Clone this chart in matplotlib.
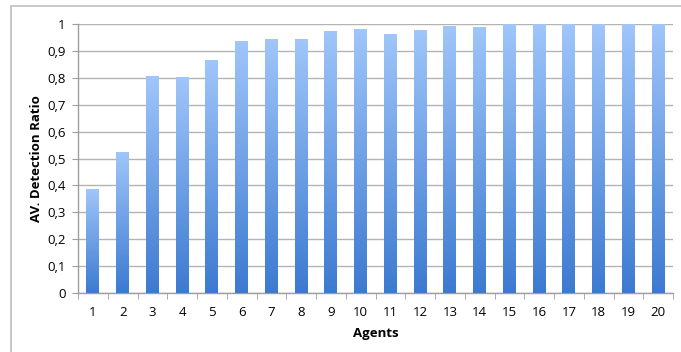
import numpy as np
import matplotlib
matplotlib.use("Agg")
import matplotlib.pyplot as plt
from matplotlib.colors import LinearSegmentedColormap
from matplotlib.patches import Rectangle
from matplotlib.ticker import FuncFormatter

plt.rcParams['font.family'] = ['Open Sans', 'DejaVu Sans']

agents = [str(i) for i in range(1, 21)]
ratios = [0.385, 0.525, 0.806, 0.802, 0.866, 0.935, 0.943, 0.943, 0.974, 0.980,
          0.963, 0.977, 0.992, 0.990, 1.0, 1.0, 1.0, 1.0, 1.0, 1.0]
y_ticks = [0, 0.1, 0.2, 0.3, 0.4, 0.5, 0.6, 0.7, 0.8, 0.9, 1.0]

fig = plt.figure(figsize=(6.81, 3.52), dpi=100)
# chart-area frame (its right and bottom edges run off the canvas)
fig.patches.append(Rectangle((11 / 681, -0.05), 1.0, 1 - 6 / 352 + 0.05,
                             transform=fig.transFigure, fill=False,
                             edgecolor='#C4C4C4', linewidth=1.3, zorder=0))
ax = fig.add_axes([78 / 681, 1 - 293 / 352, 595 / 681, 269 / 352])

x = np.arange(len(agents))
bars = ax.bar(x, ratios, width=0.43, color='none', edgecolor='none', zorder=3)

# per-bar vertical gradient: dark blue at the base, light blue at the top
cmap = LinearSegmentedColormap.from_list('bar_grad', ['#3C7AD1', '#A0C6FA'])
grad = np.linspace(0, 1, 256).reshape(-1, 1)
for b in bars:
    x0, w, h = b.get_x(), b.get_width(), b.get_height()
    im = ax.imshow(grad, cmap=cmap, aspect='auto', origin='lower',
                   extent=(x0, x0 + w, 0, h), zorder=3, interpolation='bilinear')
    im.set_clip_path(b)

ax.set_xlim(-0.5, len(agents) - 0.5)
ax.set_ylim(0, 1)
ax.set_yticks(y_ticks)
ax.yaxis.set_major_formatter(FuncFormatter(
    lambda v, p: '0' if v == 0 else ('1' if abs(v - 1) < 1e-9 else f'{v:.1f}'.replace('.', ','))))
ax.set_xticks(x)
ax.set_xticklabels(agents)
ax.set_xticks(np.arange(-0.5, len(agents)), minor=True)

ax.grid(axis='y', color='#B3B3B3', linewidth=1.0, zorder=0)
ax.set_axisbelow(True)
for side in ['top', 'right']:
    ax.spines[side].set_visible(False)
for side in ['left', 'bottom']:
    ax.spines[side].set_color('#9E9E9E')
    ax.spines[side].set_linewidth(1.0)

ax.tick_params(axis='x', which='major', length=0, pad=9, labelsize=9.5, colors='black')
ax.tick_params(axis='x', which='minor', length=4, color='#9E9E9E')
ax.tick_params(axis='y', length=4, color='#9E9E9E', labelsize=9.5, pad=5)

ax.set_xlabel('Agents', fontweight='bold', fontsize=9.5, labelpad=6)
ax.set_ylabel('AV. Detection Ratio', fontweight='bold', fontsize=9.5, labelpad=3)

fig.savefig('out.png', dpi=100)
